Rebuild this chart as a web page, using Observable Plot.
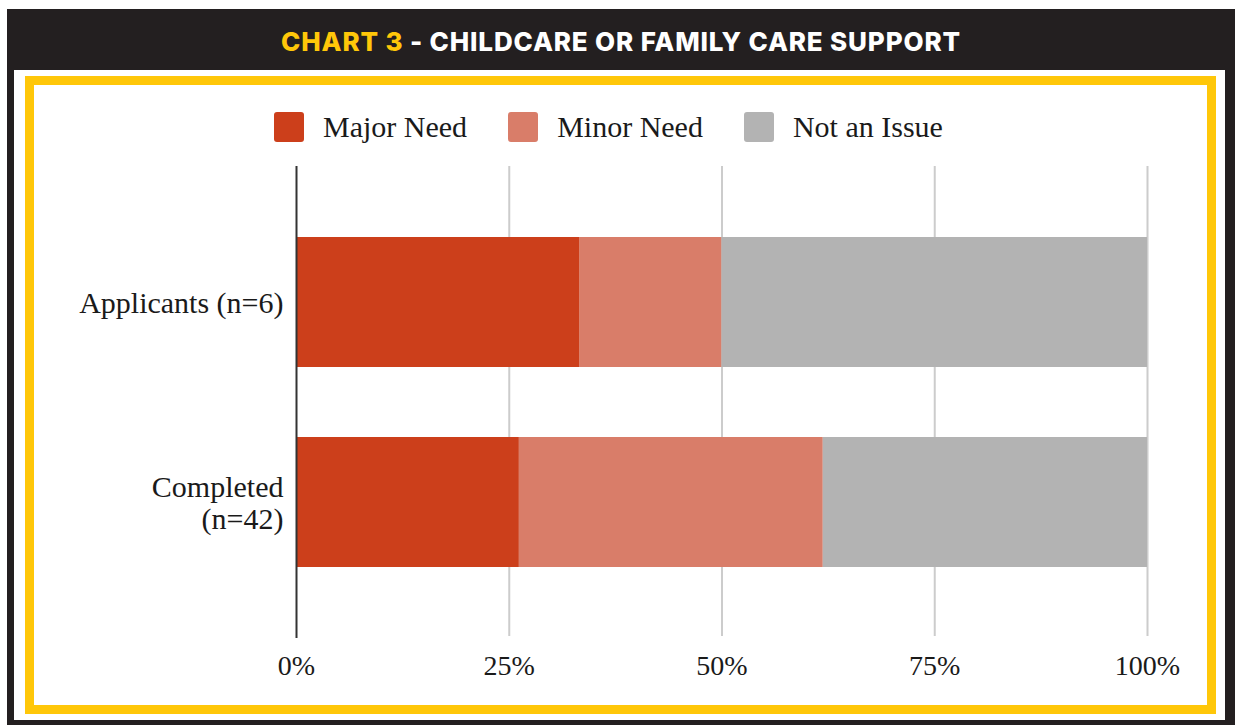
<!DOCTYPE html>
<html>
<head>
<meta charset="utf-8">
<script src="https://cdn.jsdelivr.net/npm/d3@7"></script>
<script src="https://cdn.jsdelivr.net/npm/@observablehq/plot@0.6"></script>
<style>
  html, body { margin: 0; padding: 0; background: #fff; }
  body { width: 1239px; height: 725px; position: relative; overflow: hidden; }
  .frame { position: absolute; left: 7px; top: 9px; width: 1228px; height: 730px; background: #231f20; }
  .title { position: absolute; left: 7px; top: 11px; width: 1228px; height: 61px; display: flex; align-items: center; justify-content: center;
           font-family: Inter, "Open Sans", sans-serif; font-weight: 800; font-size: 26px; color: #fff; letter-spacing: 0.85px; }
  .title .hl { color: #FFC709; }
  .inner { position: absolute; left: 14px; top: 70px; width: 1211px; height: 650px; background: #fff; }
  .yellow { position: absolute; left: 25px; top: 76px; width: 1191px; height: 638px; box-sizing: border-box; border: 9px solid #FFC709; background: #fff; }
  .legend { position: absolute; left: 274px; top: 112px; height: 30px; display: flex; align-items: center;
            font-family: "Liberation Serif", "Times New Roman", serif; font-size: 30px; color: #1a1a1a; }
  .legend .item { display: flex; align-items: center; margin-right: 41px; }
  .legend .sw { width: 30px; height: 30px; border-radius: 3px; margin-right: 19px; }
  #chart { position: absolute; left: 36px; top: 150px; }
</style>
</head>
<body>
<div class="frame"></div>
<div class="title"><span><span class="hl">CHART 3</span> - CHILDCARE OR FAMILY CARE SUPPORT</span></div>
<div class="inner"></div>
<div class="yellow"></div>
<div class="legend" id="legend"></div>
<div id="chart"></div>
<script>
// ---- data ----
const groups = ["Applicants (n=6)", "Completed (n=42)"];
const groupLabels = ["Applicants (n=6)", "Completed\n(n=42)"];
const responses = ["Major Need", "Minor Need", "Not an Issue"];
const colors = ["#CC3F1B", "#D97D69", "#B3B3B3"];
const applicantsPct = [33.33, 16.67, 50.0];
const completedPct = [26.19, 35.71, 38.10];
const xTicks = [0, 25, 50, 75, 100];
const gridTicks = [25, 50, 75, 100];

const table = [];
responses.forEach((r, i) => {
  table.push({group: groups[0], response: r, value: applicantsPct[i]});
  table.push({group: groups[1], response: r, value: completedPct[i]});
});

// legend
const legend = document.getElementById("legend");
responses.forEach((r, i) => {
  const it = document.createElement("div");
  it.className = "item";
  const sw = document.createElement("div");
  sw.className = "sw";
  sw.style.background = colors[i];
  const tx = document.createElement("span");
  tx.textContent = r;
  it.appendChild(sw); it.appendChild(tx);
  legend.appendChild(it);
});

const chart = Plot.plot({
  width: 1171,
  height: 556,
  marginLeft: 260,
  marginRight: 60,
  marginTop: 16,
  marginBottom: 68,
  style: {fontFamily: "'Liberation Serif', 'Times New Roman', serif", color: "#1a1a1a", background: "transparent"},
  x: {domain: [0, 100]},
  y: {domain: groups, padding: 0.35},
  color: {domain: responses, range: colors},
  marks: [
    Plot.gridX(gridTicks, {stroke: "#cccccc", strokeWidth: 2, strokeOpacity: 1, insetBottom: 2}),
    Plot.barX(table, {x: "value", y: "group", fill: "response", order: responses}),
    Plot.ruleX([0], {stroke: "#333333", strokeWidth: 2}),
    Plot.axisX(xTicks, {tickSize: 0, tickPadding: 17, fontSize: 28, tickFormat: d => d + "%", label: null}),
    Plot.axisY({tickSize: 0, tickPadding: 13, fontSize: 30, lineHeight: 1.07, label: null,
                tickFormat: d => groupLabels[groups.indexOf(d)]})
  ]
});
document.getElementById("chart").appendChild(chart);
</script>
</body>
</html>
